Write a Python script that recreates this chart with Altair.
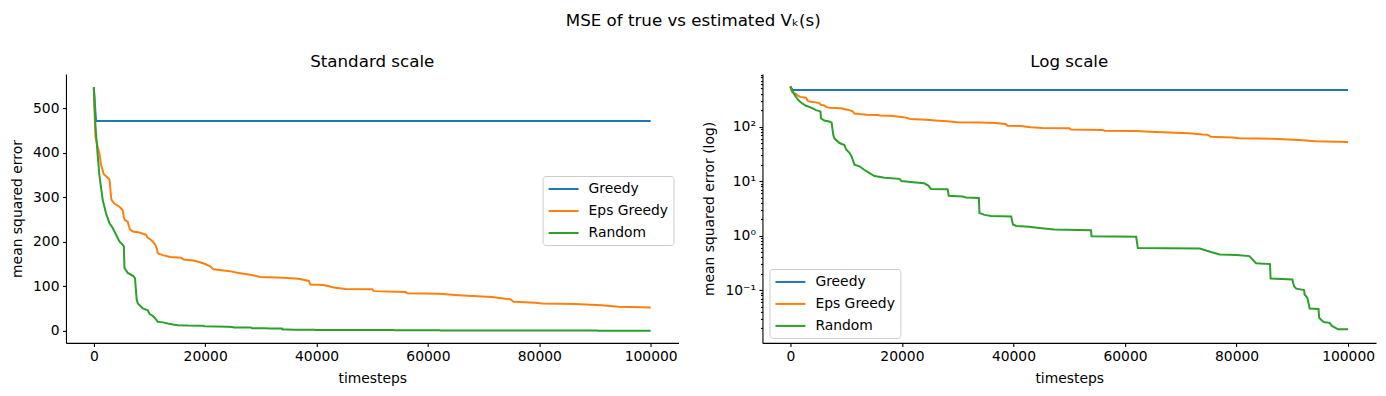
import altair as alt
import pandas as pd

series_names = ["Greedy", "Eps Greedy", "Random"]
series_colors = ["#1f77b4", "#ff7f0e", "#2ca02c"]

greedy_t = [0, 400, 100000]
greedy_v = [548, 472, 472]

eps_t = [0, 300, 720, 1020, 1320, 1800, 2500, 2800, 2900, 3100, 3200, 3700, 4600, 5200, 5400,
         5600, 6100, 6300, 6500, 7000, 8200, 9400, 9600, 10000, 10600, 11100, 11300, 11500,
         12400, 13700, 15700, 16100, 17900, 19100, 20000, 20900, 21500, 24400, 26000, 28100,
         29900, 34100, 36800, 38600, 38900, 41300, 43100, 45200, 50000, 50300, 56000, 56300,
         62000, 65500, 71500, 73900, 74800, 75400, 79300, 80500, 86400, 91200, 94200, 100000]
eps_v = [548, 435, 413, 398, 372, 352, 344, 340, 331, 300, 294, 286, 279, 271, 255,
         249, 245, 235, 228, 223, 221, 216, 210, 207, 201, 192, 185, 174,
         170, 166, 164, 160, 158, 154, 150, 145, 138, 134, 130, 126,
         121, 119, 117, 112, 104, 103, 97, 94, 93, 89, 87, 84,
         83, 80, 76, 72, 71, 65, 63, 61, 60, 57, 54, 52]

rand_t = [0, 300, 700, 1000, 1600, 2200, 2800, 3400, 4000, 4600, 5200, 5400, 5500, 6100, 7100,
          7400, 7700, 7900, 8800, 9700, 10000, 10600, 11000, 11500, 12400, 13300, 14200, 15100,
          16900, 19600, 19900, 22000, 24000, 24800, 25200, 28200, 28400, 30900, 31500, 33800,
          33900, 34800, 36000, 39600, 39900, 40500, 42800, 44600, 47300, 53900, 54000, 62000,
          62300, 73400, 75400, 77000, 80000, 82300, 83500, 86000, 86100, 90000, 90300, 90700,
          92100, 92200, 92700, 93100, 94700, 94800, 95600, 96700, 97100, 98200, 100000]
rand_v = [548, 460, 395, 350, 294, 264, 242, 231, 216, 201, 193, 190, 141, 130, 123,
          118, 70, 61, 50, 46, 38, 33, 28, 20, 18.7, 16, 14, 12.4,
          11.5, 11, 10, 9.5, 9.1, 8.2, 7.2, 7.1, 5.4, 5.2, 5.0, 4.9,
          2.6, 2.4, 2.3, 2.25, 1.6, 1.5, 1.45, 1.38, 1.29, 1.25, 0.97, 0.95,
          0.59, 0.58, 0.50, 0.45, 0.44, 0.42, 0.31, 0.30, 0.163, 0.156, 0.118, 0.106,
          0.10, 0.083, 0.072, 0.046, 0.045, 0.031, 0.026, 0.025, 0.022, 0.019, 0.019]

x_ticks = [0, 20000, 40000, 60000, 80000, 100000]
lin_ticks = [0, 100, 200, 300, 400, 500]
log_major = [0.1, 1, 10, 100]
log_minor = [0.02, 0.03, 0.04, 0.05, 0.06, 0.07, 0.08, 0.09,
             0.2, 0.3, 0.4, 0.5, 0.6, 0.7, 0.8, 0.9,
             2, 3, 4, 5, 6, 7, 8, 9,
             20, 30, 40, 50, 60, 70, 80, 90,
             200, 300, 400, 500, 600, 700, 800, 900]

frames = []
for name, ts, vs in [("Greedy", greedy_t, greedy_v), ("Eps Greedy", eps_t, eps_v), ("Random", rand_t, rand_v)]:
    frames.append(pd.DataFrame({"series": name, "t": ts, "v": vs, "idx": range(len(ts))}))
df = pd.concat(frames, ignore_index=True)

FONT = "DejaVu Sans"
FS = 13.9
LW = 2

x_enc = alt.X("t:Q", scale=alt.Scale(domain=[-5000, 105000], nice=False, zero=False),
              axis=alt.Axis(values=x_ticks, format="d", title="timesteps"))

def color_enc(lx, ly):
    return alt.Color("series:N",
                     scale=alt.Scale(domain=series_names, range=series_colors),
                     legend=alt.Legend(orient="none", legendX=lx, legendY=ly, title=None))

left = alt.Chart(df).mark_line(strokeWidth=LW, clip=True).encode(
    x=x_enc,
    y=alt.Y("v:Q", scale=alt.Scale(domain=[-27.5, 577.5], nice=False, zero=False),
            axis=alt.Axis(values=lin_ticks, title="mean squared error")),
    color=color_enc(477, 102),
    order="idx:Q",
).properties(width=613, height=269,
             title=alt.TitleParams("Standard scale", fontSize=16.7, fontWeight="normal",
                                   font=FONT, offset=3))

log_scale = alt.Scale(type="log", domain=[0.01072, 922], nice=False)
label_expr = ("datum.value == 100 ? '10²' : datum.value == 10 ? '10¹' : "
              "datum.value == 1 ? '10⁰' : '10⁻¹'")

right_main = alt.Chart(df).mark_line(strokeWidth=LW, clip=True).encode(
    x=x_enc,
    y=alt.Y("v:Q", scale=log_scale,
            axis=alt.Axis(values=log_major, labelExpr=label_expr, title="mean squared error (log)",
                          orient="left")),
    color=color_enc(7, 195),
    order="idx:Q",
)
right_minor = alt.Chart(df).mark_point(opacity=0).encode(
    x=x_enc,
    y=alt.Y("v:Q", scale=log_scale,
            axis=alt.Axis(values=log_minor, labels=False, tickSize=2, title=None, domain=False,
                          orient="left")),
)
right = alt.layer(right_main, right_minor).resolve_axis(y="independent").properties(
    width=614, height=269,
    title=alt.TitleParams("Log scale", fontSize=16.7, fontWeight="normal",
                          font=FONT, offset=3))

chart = alt.hconcat(left, right, spacing=24).resolve_scale(color="independent").resolve_legend(
    color="independent"
).properties(
    title=alt.TitleParams("MSE of true vs estimated Vₖ(s)", fontSize=16.7, fontWeight="normal",
                          font=FONT, anchor="middle", offset=25),
    padding={"left": 2, "top": 4, "right": 2, "bottom": 2},
).configure_view(stroke=None).configure_axis(
    grid=False, domainColor="black", tickColor="black", labelColor="black", titleColor="black",
    labelFont=FONT, titleFont=FONT, labelFontSize=FS, titleFontSize=FS, titleFontWeight="normal",
    tickSize=3.5, labelPadding=3.5, domainWidth=1.1, tickWidth=1.1, titlePadding=8,
).configure_legend(
    fillColor="white", strokeColor="#cccccc", cornerRadius=3, padding=5,
    labelFont=FONT, labelFontSize=FS, labelColor="black", symbolType="M-1,0H3.29",
    symbolSize=196, symbolStrokeWidth=LW, labelOffset=25, rowPadding=7,
).configure_title(color="black")

chart.save("out.html", embed_options={"renderer": "svg", "actions": False})
